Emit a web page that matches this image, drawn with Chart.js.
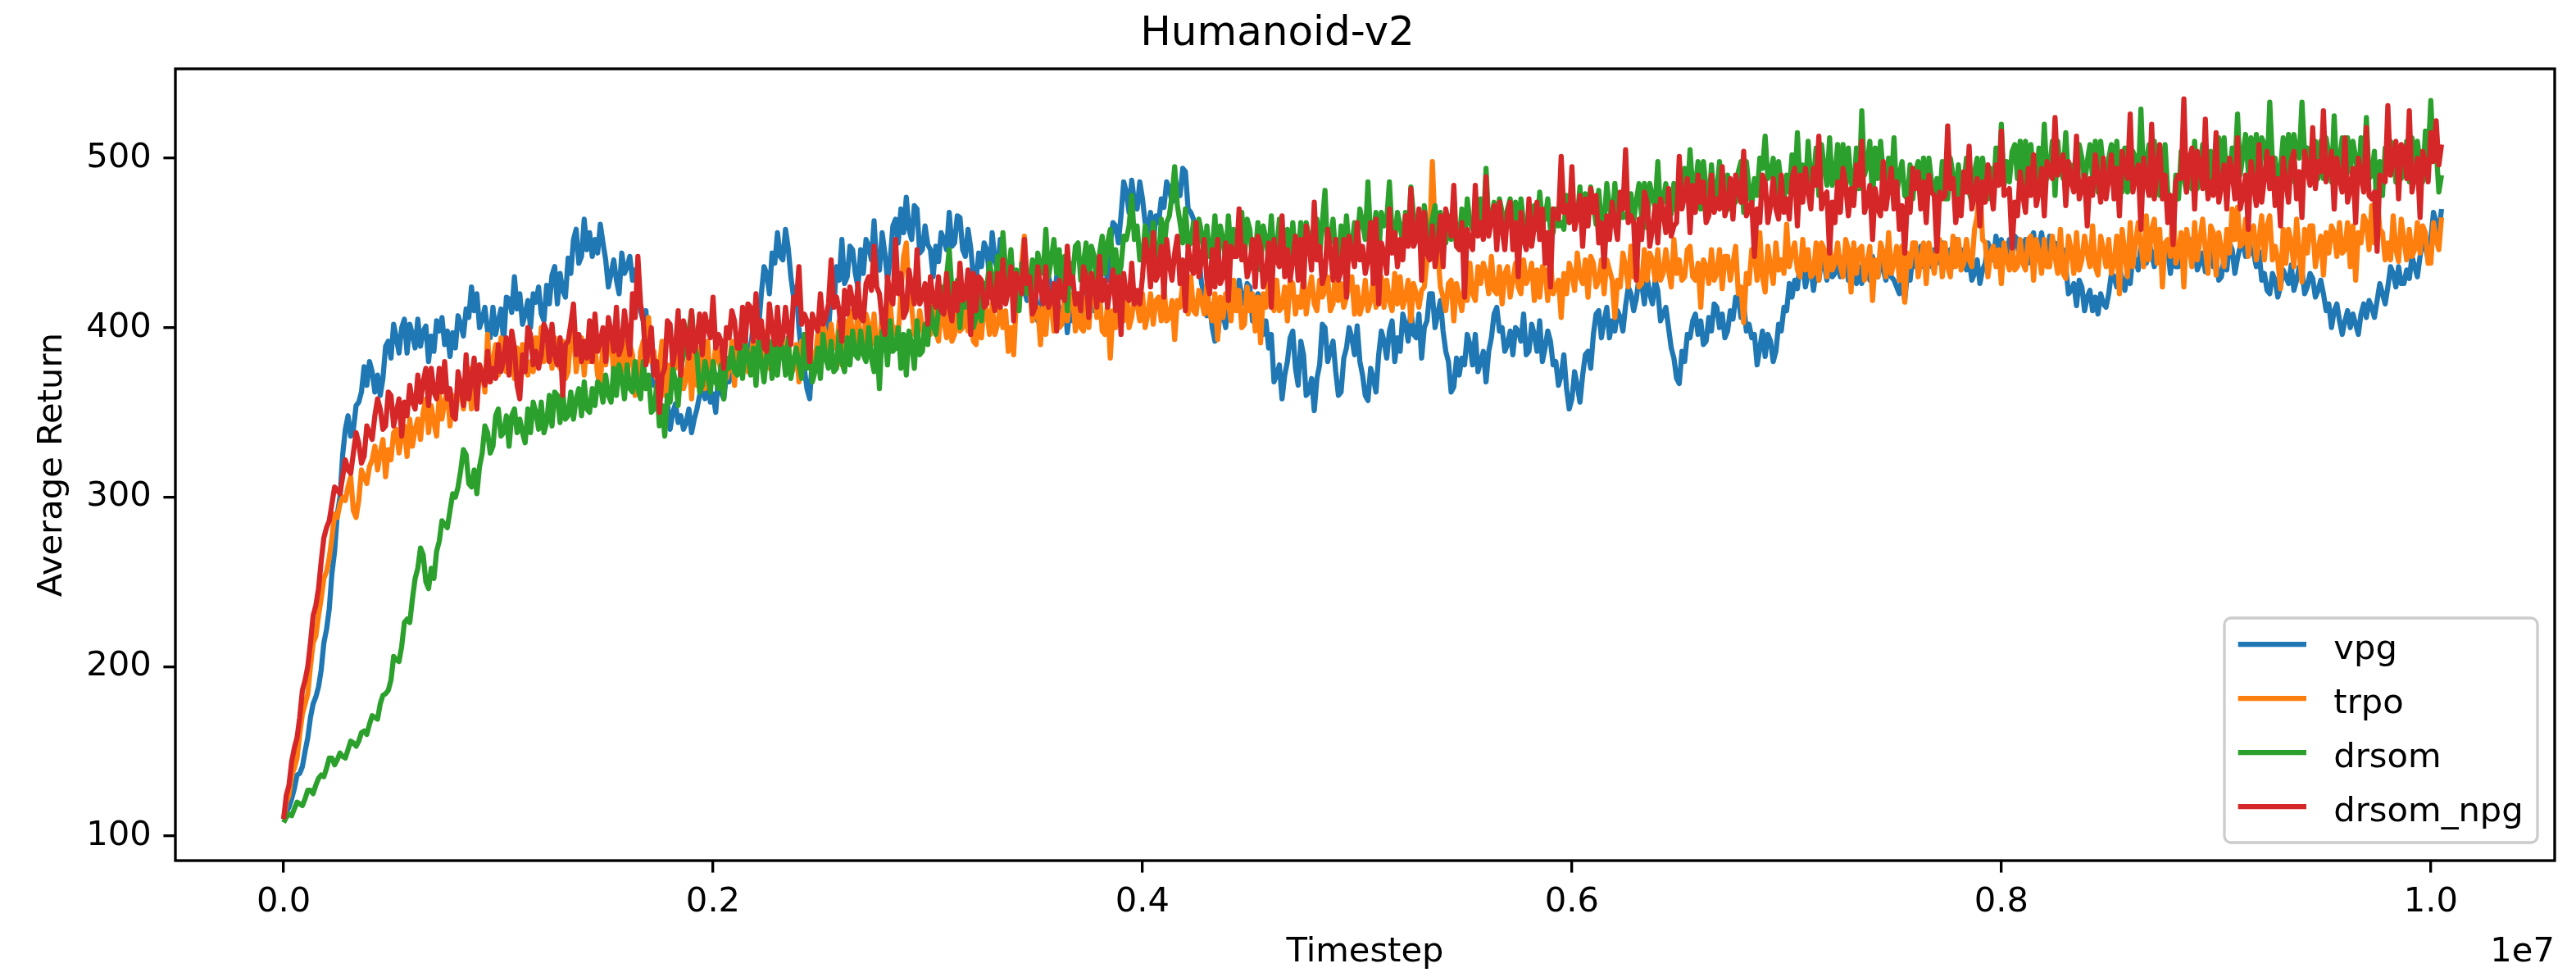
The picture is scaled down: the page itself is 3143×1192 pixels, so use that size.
<!DOCTYPE html>
<html>
<head>
<meta charset="utf-8">
<script src="https://cdn.jsdelivr.net/npm/chart.js@4.4.1/dist/chart.umd.min.js"></script>
<style>
html,body{margin:0;padding:0;background:#fff;}
canvas{display:block;}
</style>
</head>
<body>
<canvas id="c" width="3143" height="1192" style="width:3143px;height:1192px"></canvas>
<script>
// ---------------- data ----------------
const seriesNames = ['vpg', 'trpo', 'drsom', 'drsom_npg'];
const seriesColors = ['#1f77b4', '#ff7f0e', '#2ca02c', '#d62728'];
const xTickValues = [0.0, 0.2, 0.4, 0.6, 0.8, 1.0];   // in units of 1e7
const yTickValues = [100, 200, 300, 400, 500];
const xOffsetLabel = '1e7';
const STEP = 0.00125; // logging interval, in units of 1e7 timesteps

const vpg = [
110,114,117,122,128,136,137,141,150,158,170,178,182,188,198,214,222,234,255,268,290,300,325,340,348,336,340,354,356,362,377,366,380,374,362,372,360,370,389,392,
382,402,394,385,400,405,385,402,396,388,405,389,398,401,380,395,386,404,398,406,390,398,383,397,388,407,402,395,411,406,424,410,420,400,405,412,398,394,412,396,
404,411,391,418,417,409,430,411,420,402,408,416,400,420,415,424,408,404,425,414,431,436,414,432,422,418,441,432,452,458,438,442,464,446,456,442,452,444,461,450,
440,424,432,440,428,420,444,432,436,442,428,434,420,410,404,410,384,392,366,372,356,346,348,356,340,350,355,344,348,340,344,352,338,346,352,360,365,358,370,356,
361,350,372,362,358,372,368,384,380,388,392,402,396,380,386,404,410,400,420,436,432,420,444,438,456,442,440,458,447,430,418,424,400,384,376,364,358,382,374,388,
390,408,404,398,420,412,436,428,452,426,430,448,446,432,424,446,432,452,448,440,463,436,434,456,444,428,440,460,464,450,470,456,477,458,452,472,470,444,446,460,
449,446,430,448,439,456,452,446,468,448,450,466,465,446,442,458,447,430,428,444,436,450,446,430,456,440,434,452,447,426,424,440,430,412,418,432,422,416,432,420,
426,404,410,422,414,430,424,412,430,402,408,416,397,412,404,420,412,402,420,432,428,414,410,424,418,440,436,428,450,462,460,450,466,486,480,468,487,474,470,486,
476,462,456,468,448,466,462,476,471,486,482,474,490,480,478,494,492,470,468,464,452,442,426,420,407,414,400,392,395,410,408,400,416,426,422,412,428,418,414,426,
424,404,412,420,410,396,404,388,396,368,372,378,358,372,380,394,398,376,366,392,384,360,362,370,351,370,378,402,400,380,386,392,374,360,362,382,388,400,394,384,
401,380,372,360,357,376,370,362,384,398,392,382,398,404,380,394,386,408,402,392,410,396,394,408,382,400,404,420,420,400,408,416,398,386,380,362,365,382,372,382,
378,396,390,378,396,374,380,386,368,386,394,408,412,398,400,386,390,398,384,400,398,392,408,384,386,402,396,386,404,380,388,398,392,378,380,366,372,384,364,352,
358,374,366,356,372,384,386,376,396,408,410,394,404,412,394,404,398,410,406,398,413,424,420,410,417,430,426,414,430,420,414,428,422,404,408,412,400,388,382,370,
367,386,380,396,394,404,408,396,404,390,392,406,398,414,412,400,408,394,398,410,405,418,418,406,414,398,402,394,396,378,388,398,383,396,392,380,386,402,398,412,
410,426,418,428,423,438,436,424,432,436,422,434,428,440,438,428,440,430,432,442,430,440,444,428,436,432,426,436,426,440,436,428,442,432,430,442,434,428,440,430,
428,424,420,430,416,432,428,442,436,444,448,436,446,440,436,446,438,448,450,436,444,446,436,452,450,438,446,434,440,428,432,440,426,434,438,450,446,440,454,444,
452,440,444,452,440,454,452,440,448,452,438,452,456,440,448,456,444,440,454,442,450,434,440,446,436,420,422,426,413,428,424,410,418,422,410,418,408,420,414,412,
420,432,430,424,436,428,422,432,426,442,440,434,448,440,438,450,444,436,450,440,438,448,446,432,446,436,436,446,440,454,452,440,445,434,438,444,433,446,444,436,
440,428,430,442,434,450,446,432,441,448,450,442,457,444,444,436,445,428,432,422,420,432,428,418,424,434,430,426,437,422,428,436,434,420,424,432,429,418,422,428,
420,410,414,400,410,414,404,396,404,410,400,408,402,396,408,414,406,416,412,406,416,426,420,414,424,436,432,424,436,426,426,434,429,442,436,430,442,452,448,440,452,468,462,456,470
];

const trpo = [
110,120,124,136,140,146,160,172,178,184,200,214,218,230,240,252,256,264,276,290,288,296,300,298,306,312,292,288,298,316,312,308,318,322,330,316,326,334,312,328,
322,338,340,326,336,342,324,346,330,340,346,334,350,358,338,354,344,336,360,346,356,364,342,360,348,362,366,352,364,376,352,368,358,378,374,362,396,368,380,390,
372,394,390,374,384,392,370,388,366,390,386,372,380,374,394,378,400,380,382,396,376,394,390,376,392,370,374,396,398,374,386,394,372,392,380,394,388,372,366,392,
378,390,396,372,390,372,374,392,372,390,384,360,362,386,392,380,406,380,386,370,376,392,360,378,362,384,376,392,384,364,370,386,358,384,366,388,380,364,392,370,
372,390,382,374,388,370,376,392,366,394,384,374,392,374,380,394,378,380,402,380,398,376,386,398,374,394,392,378,390,372,376,390,368,392,382,392,396,374,380,396,
384,402,396,388,402,388,388,404,378,404,392,410,396,390,410,392,388,408,402,390,408,386,390,408,392,390,414,396,400,396,420,442,450,418,412,396,394,410,400,392,
404,396,418,398,392,414,404,394,412,392,396,414,398,400,420,398,408,392,390,412,394,414,410,396,414,396,402,412,400,410,386,400,384,416,412,438,454,428,424,404,
408,412,390,412,396,418,414,398,418,400,402,418,404,418,420,398,414,400,398,418,400,420,428,406,420,398,396,414,382,410,400,418,412,404,422,400,406,420,414,404,
420,400,408,420,402,416,418,404,424,404,406,416,393,416,412,426,418,408,430,410,408,422,416,408,426,408,404,420,393,418,406,420,414,404,428,410,422,400,402,424,
410,420,398,418,391,420,412,426,420,410,428,410,412,424,404,428,426,408,418,412,433,408,420,430,414,410,428,418,422,430,410,414,435,416,426,412,418,426,430,408,
424,408,414,428,410,416,428,412,426,430,412,428,416,410,432,414,430,412,418,428,404,426,420,412,422,424,440,452,498,458,446,424,418,410,426,428,404,426,418,410,
428,416,438,420,416,436,426,438,432,420,442,422,420,436,414,432,436,418,428,438,424,420,440,426,430,438,416,434,418,436,434,416,440,420,424,428,406,432,420,438,
432,422,444,430,426,440,418,442,438,424,428,440,420,440,434,428,406,428,424,444,436,424,448,430,442,424,426,446,428,444,440,428,446,428,432,446,434,424,452,432,
440,428,430,446,448,430,428,438,412,440,436,426,446,428,432,446,423,442,442,428,438,448,420,424,403,432,426,446,444,428,456,430,421,448,436,426,450,434,440,432,
461,436,444,450,434,430,452,434,446,430,432,450,428,450,446,430,450,434,438,450,436,430,452,446,421,450,432,446,448,428,438,448,416,440,430,450,444,430,456,432,
438,448,428,448,415,444,436,450,450,430,440,450,426,450,442,432,446,452,430,450,436,430,454,436,452,434,438,452,440,436,458,466,486,452,450,430,444,448,436,446,
426,450,440,434,448,434,436,452,438,434,452,454,428,452,444,432,452,436,436,454,442,432,458,432,429,454,446,432,456,434,440,454,444,436,460,436,431,454,446,436,
452,432,438,454,420,458,444,430,462,436,450,462,448,436,466,440,458,464,438,458,424,450,452,442,474,438,444,456,424,458,448,436,462,440,452,464,446,432,460,456,
431,456,446,436,458,444,470,452,471,448,450,464,442,458,460,440,452,466,440,460,466,440,448,440,423,458,438,458,450,436,464,444,427,458,444,460,460,436,446,454,
431,456,444,460,456,442,462,444,446,462,436,460,428,456,450,466,462,446,472,450,478,458,456,440,450,440,466,446,439,464,452,440,458,442,446,462,444,460,456,438,438,462,452,446,465
];

const drsom = [
108,111,113,112,116,120,119,118,122,127,127,125,130,134,136,135,140,146,146,142,145,149,147,146,151,156,155,153,156,161,162,160,166,171,170,169,178,183,184,186,
192,206,204,203,212,226,228,226,240,252,258,270,266,250,246,258,252,268,274,286,284,282,292,302,300,306,316,328,325,308,306,316,302,318,326,342,338,326,330,348,
352,336,338,348,330,348,352,338,346,338,332,352,338,356,350,340,356,338,344,360,342,362,360,344,362,346,348,362,346,358,364,348,368,352,350,364,354,368,366,356,
372,360,356,376,360,378,370,358,378,364,362,380,364,358,380,364,372,350,352,366,342,354,336,360,356,376,368,354,376,384,390,398,410,390,384,362,366,380,372,362,
380,368,364,378,358,382,376,388,374,372,386,370,390,384,372,388,366,392,380,368,384,392,370,390,372,390,388,372,394,370,380,388,378,370,396,376,388,368,374,388,
370,396,382,376,392,374,376,398,380,374,394,378,398,384,382,398,384,380,400,382,374,394,364,398,396,378,404,386,388,400,376,396,372,398,390,376,404,384,386,402,
390,412,402,396,410,424,420,430,446,422,414,428,400,424,412,428,418,400,406,424,404,426,424,438,430,418,442,426,456,434,428,446,420,434,410,438,440,420,426,440,
418,444,436,432,458,430,440,452,432,446,418,442,410,438,430,448,450,428,438,450,426,448,442,426,444,454,432,450,458,434,446,430,436,454,452,460,478,452,460,440,
440,460,452,442,462,442,438,464,446,462,466,478,495,472,462,450,470,448,450,462,442,464,456,440,460,442,446,466,434,460,452,440,466,444,458,442,448,468,440,464,
458,438,442,462,434,460,452,442,466,442,446,464,448,438,458,440,462,442,444,462,438,462,454,440,456,464,442,462,481,444,452,464,442,438,460,440,466,446,448,462,
450,470,462,452,486,452,456,468,442,468,460,464,486,456,452,468,460,450,468,452,483,466,454,468,446,472,458,448,464,472,450,468,456,450,466,452,470,448,452,470,
450,476,462,458,468,456,476,460,494,462,464,474,454,476,468,458,470,476,456,474,448,476,462,456,466,458,472,458,480,462,464,476,458,456,470,460,462,458,478,462,
477,463,465,483,455,479,467,483,473,461,481,461,463,485,471,461,485,463,473,465,467,463,479,463,475,485,465,485,459,485,477,471,498,469,475,485,469,467,485,469,
486,474,494,476,505,482,484,498,470,498,482,472,496,476,480,498,474,476,490,470,480,474,492,498,468,498,482,472,488,478,500,494,513,488,490,500,476,498,484,474,
490,480,502,480,515,486,496,480,510,486,488,506,478,508,494,484,512,484,490,508,470,508,482,506,486,480,506,482,528,490,496,510,474,506,488,510,490,478,500,484,
512,478,490,498,478,476,496,476,492,498,480,500,470,500,486,478,488,476,498,476,476,500,490,476,496,478,484,500,480,474,492,500,472,500,486,476,494,478,506,486,
520,484,498,486,504,508,488,510,482,510,496,508,490,484,506,486,520,488,494,510,478,510,494,488,515,486,496,482,486,508,500,484,498,508,488,510,480,510,494,484,
500,508,488,510,490,480,506,480,484,504,500,486,529,488,498,508,478,510,490,478,496,508,480,476,460,490,476,504,488,480,502,482,510,482,494,508,490,478,504,484,
498,512,490,512,484,488,506,494,526,490,502,514,492,512,486,514,480,512,508,492,533,498,500,484,494,512,484,514,486,514,504,500,533,502,506,486,496,510,488,510,
488,512,502,486,525,490,498,512,482,512,492,510,500,486,512,490,524,488,490,504,462,498,478,506,492,510,504,486,506,488,492,510,486,512,498,510,498,486,516,500,534,500,506,480,490
];

const drsom_npg = [
110,124,130,144,152,158,170,186,192,200,214,230,236,246,262,276,282,286,296,306,304,302,312,322,316,314,326,338,332,320,324,342,338,334,348,358,352,340,342,362,
360,342,350,358,336,356,348,366,356,352,372,356,368,376,354,376,362,358,376,362,380,358,364,348,346,374,366,354,384,358,370,382,352,378,372,366,386,368,376,370,
390,374,382,394,372,398,388,366,358,384,374,400,396,378,386,376,384,402,398,380,402,384,378,394,360,390,392,402,414,384,396,380,392,382,404,380,408,386,392,400,
380,406,398,386,412,384,390,410,396,384,420,406,442,414,404,378,388,400,372,380,350,372,376,404,402,378,388,410,372,404,396,382,410,386,392,408,384,408,400,394,
418,388,396,392,376,400,394,410,404,388,388,412,392,414,412,392,420,394,404,388,386,414,400,390,412,390,394,412,398,390,418,414,436,402,408,404,380,408,402,398,
420,402,406,414,440,412,418,410,392,422,408,424,416,406,426,406,404,426,430,422,448,424,420,404,396,430,418,414,452,420,432,406,410,434,424,414,446,414,418,426,
402,430,416,412,430,410,408,432,412,404,426,410,438,416,418,434,396,432,410,430,428,412,414,432,418,410,432,412,440,414,422,436,404,432,426,420,452,426,430,408,
412,436,424,414,436,412,416,426,398,428,420,416,448,426,430,414,420,410,436,430,406,432,424,412,442,416,428,412,424,434,410,430,396,432,418,416,438,414,422,414,
430,452,444,424,456,428,432,448,418,452,438,428,444,454,426,440,410,448,436,432,462,430,440,452,428,420,446,424,452,426,430,450,416,448,442,442,470,440,448,430,
436,452,424,454,448,424,430,450,412,452,440,436,466,430,446,428,440,454,428,452,424,460,450,434,474,440,448,426,432,458,446,428,452,428,434,452,418,454,444,436,
462,440,448,432,440,462,426,464,414,450,444,432,470,444,456,436,452,440,466,448,482,448,452,470,428,468,444,440,460,436,448,466,436,470,462,454,484,448,446,462,
418,458,450,446,484,454,462,452,489,454,464,472,446,474,458,446,468,474,446,462,430,468,452,446,476,448,460,474,452,470,438,456,424,470,466,464,501,468,472,462,
495,458,466,478,448,476,460,482,468,478,450,462,436,466,452,474,462,452,480,470,505,462,466,462,428,464,452,480,474,448,458,472,450,476,468,456,482,454,460,462,
501,470,478,488,456,484,468,490,474,486,462,466,490,468,476,470,495,466,472,488,464,490,482,474,504,466,470,474,442,470,462,490,486,462,472,488,470,464,490,468,
476,464,488,494,460,490,474,494,480,470,494,484,513,470,478,480,444,474,462,486,468,494,484,466,482,472,496,484,510,468,474,484,452,482,470,466,498,470,482,494,
470,486,458,472,444,476,468,494,482,492,470,486,462,490,480,478,445,480,476,478,519,482,488,462,476,466,492,480,507,470,478,488,460,486,474,496,482,470,496,484,
516,478,480,482,447,474,466,492,478,468,494,478,502,472,480,494,466,498,492,488,524,490,496,502,472,498,486,480,513,476,482,490,460,488,478,502,488,474,500,476,
488,502,476,494,466,504,494,488,526,480,490,496,458,500,486,478,520,476,494,508,476,490,462,478,449,486,490,488,535,480,498,506,470,504,496,482,523,476,486,478,
515,474,484,496,470,500,492,476,512,470,478,490,458,498,484,472,508,474,488,504,482,500,472,488,460,500,486,474,498,504,476,492,465,504,494,484,518,482,498,492,
528,486,494,504,470,500,488,480,512,474,482,494,462,500,490,480,518,478,476,480,445,490,488,486,531,490,500,510,476,508,506,488,528,480,490,500,465,504,496,486,515,498,522,496,508
];

const seriesValues = [vpg, trpo, drsom, drsom_npg];
// x grid (timesteps in units of 1e7)
const nPoints = Math.max(...seriesValues.map(s => s.length));
const timesteps = Array.from({ length: nPoints }, (_, i) => +(i * STEP).toFixed(6));

// ---------------- style ----------------
const FONT = 'DejaVu Sans';
const FS = 41.67;
const LW = 6.25;
const SPINE = 3.33;
const TICKLEN = 14.6;

Chart.defaults.font.family = FONT;
Chart.defaults.font.size = FS;
Chart.defaults.color = '#000';

const datasets = seriesNames.map((name, k) => ({
  label: name,
  data: seriesValues[k].map((v, i) => ({ x: timesteps[i], y: v })),
  borderColor: seriesColors[k],
  backgroundColor: seriesColors[k],
  borderWidth: LW,
  pointRadius: 0,
  pointHoverRadius: 0,
  tension: 0,
  fill: false,
  borderJoinStyle: 'round',
  order: seriesNames.length - k
}));

const whiteBg = {
  id: 'whiteBg',
  beforeDraw(chart) {
    const ctx = chart.ctx;
    ctx.save();
    ctx.fillStyle = '#fff';
    ctx.fillRect(0, 0, chart.width, chart.height);
    ctx.restore();
  }
};

function roundRect(ctx, x, y, w, h, r) {
  ctx.beginPath();
  ctx.moveTo(x + r, y);
  ctx.lineTo(x + w - r, y);
  ctx.arcTo(x + w, y, x + w, y + r, r);
  ctx.lineTo(x + w, y + h - r);
  ctx.arcTo(x + w, y + h, x + w - r, y + h, r);
  ctx.lineTo(x + r, y + h);
  ctx.arcTo(x, y + h, x, y + h - r, r);
  ctx.lineTo(x, y + r);
  ctx.arcTo(x, y, x + r, y, r);
  ctx.closePath();
}

const framePlugin = {
  id: 'frameAndLegend',
  afterDatasetsDraw(chart) {
    const ctx = chart.ctx;
    const ca = chart.chartArea;
    ctx.save();
    // axes frame (spines)
    ctx.strokeStyle = '#000';
    ctx.lineWidth = SPINE;
    ctx.strokeRect(ca.left, ca.top, ca.right - ca.left, ca.bottom - ca.top);

    // legend (lower right)
    const lw = 382, lh = 274;
    const lx = ca.right - 21 - lw;
    const ly = ca.bottom - 22 - lh;
    roundRect(ctx, lx, ly, lw, lh, 8);
    ctx.fillStyle = 'rgba(255,255,255,0.8)';
    ctx.fill();
    ctx.strokeStyle = '#cccccc';
    ctx.lineWidth = 3.3;
    ctx.stroke();
    ctx.font = FS + 'px "' + FONT + '"';
    ctx.textAlign = 'left';
    ctx.textBaseline = 'alphabetic';
    seriesNames.forEach((name, k) => {
      const ry = ly + 32 + k * 66;
      ctx.strokeStyle = seriesColors[k];
      ctx.lineWidth = LW;
      ctx.lineCap = 'butt';
      ctx.beginPath();
      ctx.moveTo(lx + 16.7, ry);
      ctx.lineTo(lx + 100, ry);
      ctx.stroke();
      ctx.fillStyle = '#000';
      ctx.fillText(name, lx + 133.3, ry + 17.5);
    });

    // offset text for x axis
    ctx.fillStyle = '#000';
    ctx.textAlign = 'right';
    ctx.textBaseline = 'alphabetic';
    ctx.fillText(xOffsetLabel, ca.right, 1173);
    ctx.restore();
  }
};

const gridCfg = {
  display: true,
  drawOnChartArea: false,
  drawTicks: true,
  tickLength: TICKLEN,
  color: '#000',
  lineWidth: SPINE
};

new Chart(document.getElementById('c'), {
  type: 'line',
  data: { datasets },
  options: {
    responsive: false,
    devicePixelRatio: 1,
    animation: false,
    events: [],
    layout: { padding: { left: 0, right: 26, top: 0, bottom: 0 } },
    plugins: {
      legend: { display: false },
      tooltip: { enabled: false },
      title: {
        display: true,
        text: 'Humanoid-v2',
        color: '#000',
        font: { family: FONT, size: 50, weight: 'normal', lineHeight: 1.2 },
        padding: { top: 12, bottom: 12 }
      }
    },
    scales: {
      x: {
        type: 'linear',
        min: -0.0504,
        max: 1.0577,
        afterBuildTicks: s => { s.ticks = xTickValues.map(v => ({ value: v })); },
        afterFit: s => { s.height = 142; },
        ticks: {
          callback: v => Number(v).toFixed(1),
          padding: 11.4,
          maxRotation: 0,
          autoSkip: false,
          color: '#000',
          font: { family: FONT, size: FS }
        },
        grid: gridCfg,
        border: { display: false },
        title: {
          display: true,
          text: 'Timestep',
          color: '#000',
          font: { family: FONT, size: FS, lineHeight: 1.2 },
          padding: { top: 0, bottom: 4.4 }
        }
      },
      y: {
        type: 'linear',
        min: 85.5,
        max: 552.7,
        afterBuildTicks: s => { s.ticks = yTickValues.map(v => ({ value: v })); },
        afterFit: s => { s.width = 214; },
        ticks: {
          callback: v => String(v),
          padding: 14.6,
          autoSkip: false,
          color: '#000',
          font: { family: FONT, size: FS }
        },
        grid: gridCfg,
        border: { display: false },
        title: {
          display: true,
          text: 'Average Return',
          color: '#000',
          font: { family: FONT, size: FS, lineHeight: 1.2 },
          padding: { top: 39.6, bottom: 0 }
        }
      }
    }
  },
  plugins: [whiteBg, framePlugin]
});
</script>
</body>
</html>
